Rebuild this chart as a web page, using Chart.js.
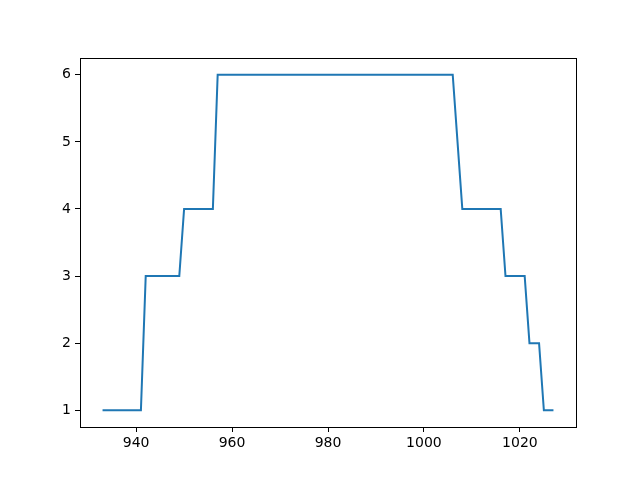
<!DOCTYPE html>
<html>
<head>
<meta charset="utf-8">
<script src="https://cdn.jsdelivr.net/npm/chart.js@4/dist/chart.umd.min.js"></script>
<style>
  html, body { margin: 0; padding: 0; background: #fff; }
  .chart-box { width: 640px; height: 480px; }
</style>
</head>
<body>
<div class="chart-box"><canvas class="step-chart" width="640" height="480"></canvas></div>
<script>
// x positions and the level at each one
const xValues = [
    933, 934, 935, 936, 937, 938, 939, 940, 941,
    942, 943, 944, 945, 946, 947, 948, 949,
    950, 951, 952, 953, 954, 955, 956,
    957, 958, 959, 960, 961, 962, 963, 964, 965, 966, 967, 968, 969, 970,
    971, 972, 973, 974, 975, 976, 977, 978, 979, 980, 981, 982, 983, 984,
    985, 986, 987, 988, 989, 990, 991, 992, 993, 994, 995, 996, 997, 998,
    999, 1000, 1001, 1002, 1003, 1004, 1005, 1006,
    1007,
    1008, 1009, 1010, 1011, 1012, 1013, 1014, 1015, 1016,
    1017, 1018, 1019, 1020, 1021,
    1022, 1023, 1024,
    1025, 1026, 1027
];
const levels = [
    1, 1, 1, 1, 1, 1, 1, 1, 1,
    3, 3, 3, 3, 3, 3, 3, 3,
    4, 4, 4, 4, 4, 4, 4,
    6, 6, 6, 6, 6, 6, 6, 6, 6, 6, 6, 6, 6, 6,
    6, 6, 6, 6, 6, 6, 6, 6, 6, 6, 6, 6, 6, 6,
    6, 6, 6, 6, 6, 6, 6, 6, 6, 6, 6, 6, 6, 6,
    6, 6, 6, 6, 6, 6, 6, 6,
    5,
    4, 4, 4, 4, 4, 4, 4, 4, 4,
    3, 3, 3, 3, 3,
    2, 2, 2,
    1, 1, 1
];
const xTicks = [940, 960, 980, 1000, 1020];
const yTicks = [1, 2, 3, 4, 5, 6];

// matplotlib boxes the whole plot, so draw the box here instead of axis borders
const frame = {
    id: 'frame',
    afterDraw(chart) {
        const { ctx, chartArea: a } = chart;
        const l = Math.round(a.left) + 0.5, r = Math.round(a.right) + 0.5;
        const t = Math.round(a.top) + 0.5, b = Math.round(a.bottom) + 0.5;
        ctx.save();
        ctx.strokeStyle = '#000';
        ctx.lineWidth = 1;
        ctx.strokeRect(l, t, r - l, b - t);
        ctx.restore();
    }
};

// only the wanted ticks get a mark
const tickColor = list => c => (c.tick && list.includes(c.tick.value)) ? '#000' : 'rgba(0,0,0,0)';

document.addEventListener('DOMContentLoaded', () => {
    const ctx = document.querySelector('.step-chart').getContext('2d');
    const span = xValues[xValues.length - 1] - xValues[0];
    const font = { family: 'DejaVu Sans', size: 14 };
    new Chart(ctx, {
        type: 'line',
        data: {
            datasets: [{
                data: xValues.map((x, i) => ({ x: x, y: levels[i] })),
                borderColor: '#1f77b4',
                borderWidth: 2,
                pointRadius: 0,
                tension: 0,
                fill: false,
            }]
        },
        options: {
            responsive: false,
            animation: false,
            events: [],
            layout: { padding: { left: 0, right: 64, top: 58, bottom: 0 } },
            plugins: { legend: { display: false }, tooltip: { enabled: false } },
            scales: {
                x: {
                    type: 'linear',
                    min: xValues[0] - span * 0.05,
                    max: xValues[xValues.length - 1] + span * 0.05,
                    afterBuildTicks: s => { s.ticks = xTicks.map(v => ({ value: v })); },
                    afterFit: s => { s.height = 53; },
                    grid: { drawOnChartArea: false, tickLength: 5, color: tickColor(xTicks) },
                    border: { display: false },
                    ticks: { color: '#000', font: font, padding: 3, maxRotation: 0, callback: v => String(v) },
                },
                y: {
                    min: 0.75,
                    max: 6.25,
                    afterBuildTicks: s => { s.ticks = yTicks.map(v => ({ value: v })); },
                    afterFit: s => { s.width = 80; },
                    grid: { drawOnChartArea: false, tickLength: 5, color: tickColor(yTicks) },
                    border: { display: false },
                    ticks: { color: '#000', font: font, padding: 4, callback: v => String(v) },
                }
            }
        },
        plugins: [frame]
    });
});
</script>
</body>
</html>
